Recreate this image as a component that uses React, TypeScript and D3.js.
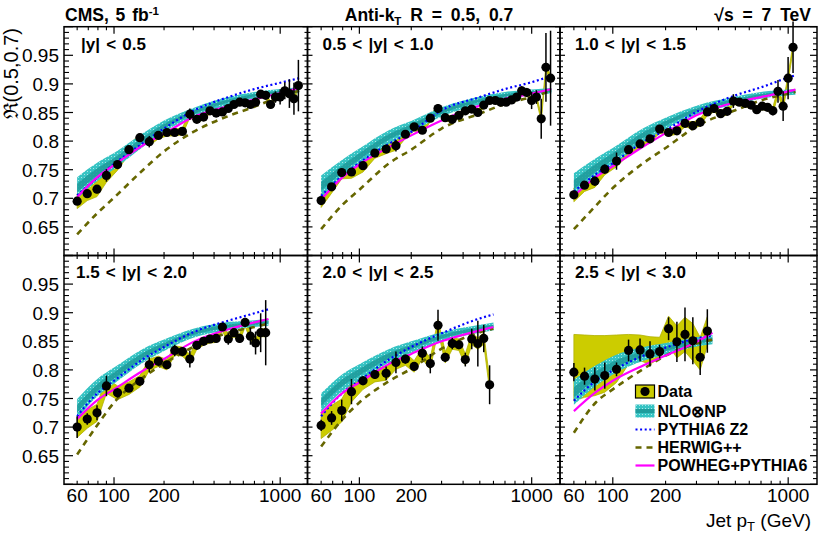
import React from "react";
import * as d3 from "d3";

// jet pT bin centres (GeV)
const PT_BINS = [60, 69, 79, 90, 105, 123, 143, 163, 185, 208, 232, 258, 286, 315, 346, 378, 412, 449, 487, 527, 570, 615, 662, 711, 763, 818, 875, 936, 999, 1066, 1136, 1210, 1287];

const LABELS = ["|y| < 0.5", "0.5 < |y| < 1.0", "1.0 < |y| < 1.5", "1.5 < |y| < 2.0", "2.0 < |y| < 2.5", "2.5 < |y| < 3.0"];

// measured ratio R(0.5,0.7), one list per rapidity bin
const DATA = [
  [0.695, 0.708, 0.716, 0.740, 0.759, 0.785, 0.806, 0.799, 0.810, 0.815, 0.815, 0.817, 0.847, 0.838, 0.842, 0.853, 0.849, 0.851, 0.857, 0.864, 0.868, 0.867, 0.864, 0.868, 0.882, 0.880, 0.864, 0.877, 0.877, 0.888, 0.883, 0.874, 0.897],
  [0.696, 0.720, 0.745, 0.746, 0.757, 0.779, 0.786, 0.792, 0.812, 0.825, 0.819, 0.840, 0.857, 0.841, 0.838, 0.845, 0.853, 0.856, 0.850, 0.863, 0.871, 0.871, 0.868, 0.868, 0.872, 0.877, 0.888, 0.885, 0.871, 0.877, 0.839, 0.929, 0.910],
  [0.706, 0.723, 0.730, 0.751, 0.765, 0.785, 0.795, 0.804, 0.821, 0.815, 0.818, 0.831, 0.827, 0.833, 0.851, 0.857, 0.848, 0.852, 0.870, 0.868, 0.866, 0.863, 0.855, 0.861, 0.859, 0.853, 0.887, 0.861, 0.910, 0.964],
  [0.700, 0.714, 0.725, 0.772, 0.760, 0.768, 0.780, 0.809, 0.815, 0.809, 0.834, 0.832, 0.819, 0.843, 0.850, 0.854, 0.855, 0.875, 0.854, 0.865, 0.855, 0.883, 0.859, 0.847, 0.865, 0.865],
  [0.703, 0.716, 0.729, 0.762, 0.781, 0.792, 0.794, 0.813, 0.819, 0.806, 0.829, 0.811, 0.878, 0.822, 0.846, 0.844, 0.818, 0.854, 0.846, 0.855, 0.774],
  [0.796, 0.789, 0.784, 0.790, 0.801, 0.834, 0.835, 0.828, 0.832, 0.872, 0.849, 0.862, 0.851, 0.822, 0.868],
];

const STAT = [
  [0.005, 0.005, 0.007, 0.011, 0.006, 0.005, 0.006, 0.010, 0.005, 0.005, 0.005, 0.005, 0.010, 0.005, 0.004, 0.004, 0.004, 0.004, 0.004, 0.004, 0.004, 0.004, 0.004, 0.004, 0.005, 0.005, 0.007, 0.010, 0.013, 0.015, 0.025, 0.028, 0.045],
  [0.005, 0.005, 0.007, 0.006, 0.005, 0.006, 0.005, 0.010, 0.006, 0.005, 0.006, 0.006, 0.008, 0.005, 0.004, 0.004, 0.004, 0.004, 0.004, 0.004, 0.004, 0.004, 0.004, 0.004, 0.004, 0.005, 0.008, 0.008, 0.015, 0.012, 0.035, 0.060, 0.083],
  [0.006, 0.005, 0.008, 0.008, 0.015, 0.005, 0.005, 0.006, 0.006, 0.006, 0.005, 0.007, 0.008, 0.008, 0.006, 0.008, 0.006, 0.005, 0.012, 0.006, 0.006, 0.005, 0.005, 0.005, 0.006, 0.008, 0.020, 0.026, 0.037, 0.045],
  [0.019, 0.010, 0.013, 0.018, 0.008, 0.006, 0.007, 0.013, 0.007, 0.007, 0.010, 0.008, 0.015, 0.007, 0.005, 0.005, 0.005, 0.006, 0.010, 0.007, 0.008, 0.008, 0.015, 0.020, 0.034, 0.057],
  [0.010, 0.012, 0.019, 0.022, 0.008, 0.008, 0.012, 0.019, 0.008, 0.008, 0.012, 0.017, 0.027, 0.008, 0.010, 0.008, 0.012, 0.018, 0.040, 0.024, 0.034],
  [0.016, 0.015, 0.020, 0.023, 0.012, 0.019, 0.020, 0.022, 0.012, 0.020, 0.035, 0.047, 0.041, 0.031, 0.038],
];

// systematic band (upper / lower half widths)
const SYS_UP = [
  [0.013, 0.012, 0.013, 0.012, 0.010, 0.008, 0.007, 0.007, 0.006, 0.006, 0.006, 0.006, 0.006, 0.005, 0.005, 0.005, 0.005, 0.005, 0.005, 0.005, 0.005, 0.005, 0.005, 0.005, 0.005, 0.005, 0.005, 0.005, 0.005, 0.005, 0.005, 0.005, 0.005],
  [0.012, 0.011, 0.011, 0.011, 0.011, 0.009, 0.008, 0.008, 0.007, 0.007, 0.006, 0.006, 0.006, 0.006, 0.005, 0.005, 0.005, 0.005, 0.005, 0.005, 0.005, 0.005, 0.005, 0.005, 0.005, 0.005, 0.005, 0.005, 0.005, 0.005, 0.005, 0.005, 0.005],
  [0.012, 0.011, 0.011, 0.010, 0.010, 0.009, 0.008, 0.007, 0.007, 0.006, 0.006, 0.006, 0.006, 0.006, 0.006, 0.006, 0.006, 0.006, 0.006, 0.006, 0.006, 0.006, 0.006, 0.006, 0.006, 0.006, 0.006, 0.006, 0.006, 0.006],
  [0.018, 0.016, 0.015, 0.013, 0.012, 0.011, 0.010, 0.010, 0.009, 0.009, 0.008, 0.008, 0.008, 0.007, 0.007, 0.007, 0.007, 0.007, 0.007, 0.007, 0.007, 0.007, 0.007, 0.007, 0.007, 0.007],
  [0.023, 0.022, 0.020, 0.018, 0.015, 0.013, 0.012, 0.012, 0.011, 0.010, 0.010, 0.010, 0.010, 0.010, 0.010, 0.010, 0.010, 0.010, 0.010, 0.010, 0.010],
  [0.066, 0.072, 0.076, 0.070, 0.060, 0.028, 0.026, 0.030, 0.025, 0.022, 0.028, 0.030, 0.030, 0.035, 0.025],
];
const SYS_DN = [
  SYS_UP[0], SYS_UP[1], SYS_UP[2], SYS_UP[3], SYS_UP[4],
  [0.050, 0.037, 0.029, 0.029, 0.023, 0.024, 0.019, 0.018, 0.012, 0.029, 0.028, 0.030, 0.035, 0.022, 0.025],
];

// theory nodes
const THEORY_PT = [
  [60, 80, 100, 150, 200, 300, 500, 700, 1000, 1300],
  [60, 80, 100, 150, 200, 300, 500, 700, 1000, 1300],
  [60, 80, 100, 150, 200, 300, 500, 700, 1000, 1100],
  [60, 80, 100, 150, 200, 300, 500, 700, 850],
  [60, 80, 100, 150, 200, 300, 500, 600],
  [60, 80, 100, 150, 200, 300, 370],
];
const NLO = [
  [0.718, 0.747, 0.765, 0.802, 0.826, 0.850, 0.871, 0.880, 0.886, 0.889],
  [0.721, 0.752, 0.773, 0.808, 0.825, 0.851, 0.871, 0.880, 0.885, 0.888],
  [0.724, 0.753, 0.773, 0.811, 0.831, 0.854, 0.871, 0.880, 0.885, 0.886],
  [0.732, 0.770, 0.790, 0.825, 0.843, 0.864, 0.877, 0.881, 0.883],
  [0.743, 0.778, 0.796, 0.825, 0.840, 0.858, 0.872, 0.876],
  [0.761, 0.790, 0.808, 0.828, 0.837, 0.849, 0.853],
];
const NLO_ERR = [
  [0.019, 0.016, 0.014, 0.012, 0.010, 0.008, 0.007, 0.006, 0.005, 0.005],
  [0.019, 0.016, 0.014, 0.012, 0.010, 0.008, 0.007, 0.006, 0.005, 0.005],
  [0.020, 0.017, 0.015, 0.012, 0.010, 0.008, 0.007, 0.006, 0.005, 0.005],
  [0.017, 0.015, 0.014, 0.012, 0.010, 0.008, 0.007, 0.006, 0.006],
  [0.016, 0.015, 0.014, 0.012, 0.010, 0.008, 0.007, 0.007],
  [0.022, 0.018, 0.016, 0.012, 0.010, 0.008, 0.008],
];
const PYTHIA = [
  [0.705, 0.737, 0.760, 0.797, 0.822, 0.853, 0.878, 0.891, 0.902, 0.910],
  [0.704, 0.740, 0.762, 0.796, 0.816, 0.854, 0.877, 0.891, 0.903, 0.914],
  [0.712, 0.742, 0.761, 0.799, 0.819, 0.851, 0.880, 0.894, 0.911, 0.915],
  [0.719, 0.760, 0.781, 0.819, 0.840, 0.866, 0.887, 0.899, 0.906],
  [0.719, 0.760, 0.781, 0.819, 0.840, 0.864, 0.890, 0.897],
  [0.746, 0.781, 0.799, 0.825, 0.839, 0.855, 0.860],
];
const HERWIG = [
  [0.637, 0.675, 0.701, 0.750, 0.782, 0.816, 0.845, 0.860, 0.878, 0.888],
  [0.646, 0.689, 0.715, 0.762, 0.785, 0.822, 0.848, 0.865, 0.877, 0.888],
  [0.646, 0.687, 0.718, 0.762, 0.788, 0.826, 0.854, 0.871, 0.883, 0.886],
  [0.652, 0.705, 0.743, 0.787, 0.811, 0.840, 0.866, 0.875, 0.881],
  [0.666, 0.714, 0.743, 0.781, 0.802, 0.837, 0.866, 0.872],
  [0.690, 0.743, 0.766, 0.802, 0.825, 0.846, 0.853],
];
const POWHEG = [
  [0.702, 0.738, 0.758, 0.793, 0.813, 0.842, 0.862, 0.873, 0.884, 0.893],
  [0.698, 0.737, 0.759, 0.790, 0.810, 0.836, 0.862, 0.874, 0.883, 0.891],
  [0.704, 0.737, 0.756, 0.791, 0.814, 0.845, 0.868, 0.877, 0.887, 0.890],
  [0.714, 0.748, 0.766, 0.799, 0.819, 0.849, 0.872, 0.883, 0.889],
  [0.724, 0.760, 0.778, 0.811, 0.828, 0.850, 0.869, 0.875],
  [0.728, 0.761, 0.781, 0.808, 0.825, 0.849, 0.865],
];

const LEGEND = ["Data", "NLO\u2297NP", "PYTHIA6 Z2", "HERWIG++", "POWHEG+PYTHIA6"];

const X_LABELS = [60, 100, 200, 1000];
const X_MAJOR = [100, 1000];
const X_MINOR = [60, 70, 80, 90, 200, 300, 400, 500, 600, 700, 800, 900];
const Y_LABELS = [0.65, 0.7, 0.75, 0.8, 0.85, 0.9, 0.95];

const W = 830, H = 536;
const FONT = "'Liberation Sans', Arial, Helvetica, sans-serif";
const COLS = [[64, 307.5], [307.5, 560], [560, 817]];
const ROWS = [[26.7, 255.5], [255.5, 484.3]];
const X_DOMAIN = [50, 1460];
const Y_DOMAIN = [0.6, 1.0];

const C_SYS = "#cccc00", C_NLO_IN = "#1f9c9c", C_PY = "#0000ff", C_HW = "#666600", C_PW = "#ff00ff";

function Panel({ i }: { i: number }) {
  const col = i % 3, row = Math.floor(i / 3);
  const [x0, x1] = COLS[col], [y0, y1] = ROWS[row];
  const x = d3.scaleLog().domain(X_DOMAIN).range([x0, x1]);
  const y = d3.scaleLinear().domain(Y_DOMAIN).range([y1, y0]);

  const vals = DATA[i];
  const pts = PT_BINS.slice(0, vals.length);
  const up = SYS_UP[i], dn = SYS_DN[i];
  const sysPath = d3.area<number>()
    .x((_, k) => x(pts[k])).y0((v, k) => y(v - dn[k])).y1((v, k) => y(v + up[k]))(vals);

  const tpt = THEORY_PT[i];
  const line = d3.line<number>().x((_, k) => x(tpt[k])).y(v => y(v)).curve(d3.curveMonotoneX);
  const band = (f: number) => d3.area<number>()
    .x((_, k) => x(tpt[k]))
    .y0((v, k) => y(v - f * NLO_ERR[i][k]))
    .y1((v, k) => y(v + f * NLO_ERR[i][k]))
    .curve(d3.curveMonotoneX)(NLO[i]);

  const yMajor = d3.range(60, 101, 5).map(v => v / 100);
  const yMinor = d3.range(60, 101).map(v => v / 100).filter(v => Math.round(v * 100) % 5 !== 0);
  const lMaj = col === 0 ? 9 : 5, lMin = col === 0 ? 5 : 3;
  const rMaj = col === 2 ? 7 : 5, rMin = col === 2 ? 4 : 3;

  const labelX = [81, 322.5, 575][col] - (row === 1 && col === 0 ? 5 : 0);
  const labelY = row === 0 ? 49.5 : 278;

  return (
    <g>
      <path d={sysPath ?? ""} fill={C_SYS} stroke="#b0b000" strokeWidth={0.8} />
      <path d={band(1) ?? ""} fill="url(#nloPat)" />
      <path d={band(0.4) ?? ""} fill={C_NLO_IN} opacity={0.9} />
      <path d={line(HERWIG[i]) ?? ""} fill="none" stroke={C_HW} strokeWidth={2.6} strokeDasharray="6,5" />
      <path d={line(PYTHIA[i]) ?? ""} fill="none" stroke={C_PY} strokeWidth={2.2} strokeDasharray="2,2.6" />
      <path d={line(POWHEG[i]) ?? ""} fill="none" stroke={C_PW} strokeWidth={2.2} />
      {vals.map((v, k) => (
        <line key={"e" + k} x1={x(pts[k])} x2={x(pts[k])} y1={y(v - STAT[i][k])} y2={y(v + STAT[i][k])} stroke="#000" strokeWidth={1.5} />
      ))}
      {vals.map((v, k) => (
        <circle key={"p" + k} cx={x(pts[k])} cy={y(v)} r={4.6} fill="#000" />
      ))}

      <rect x={x0} y={y0} width={x1 - x0} height={y1 - y0} fill="none" stroke="#000" strokeWidth={1.5} />
      {yMajor.map(t => (
        <g key={"ym" + t}>
          <line x1={x0} x2={x0 + lMaj} y1={y(t)} y2={y(t)} stroke="#000" strokeWidth={1.2} />
          <line x1={x1} x2={x1 - rMaj} y1={y(t)} y2={y(t)} stroke="#000" strokeWidth={1.2} />
        </g>
      ))}
      {yMinor.map(t => (
        <g key={"yn" + t}>
          <line x1={x0} x2={x0 + lMin} y1={y(t)} y2={y(t)} stroke="#000" strokeWidth={1.1} />
          <line x1={x1} x2={x1 - rMin} y1={y(t)} y2={y(t)} stroke="#000" strokeWidth={1.1} />
        </g>
      ))}
      {X_MAJOR.map(t => (
        <g key={"xm" + t}>
          <line x1={x(t)} x2={x(t)} y1={y1} y2={y1 - 7} stroke="#000" strokeWidth={1.2} />
          <line x1={x(t)} x2={x(t)} y1={y0} y2={y0 + 7} stroke="#000" strokeWidth={1.2} />
        </g>
      ))}
      {X_MINOR.map(t => (
        <g key={"xn" + t}>
          <line x1={x(t)} x2={x(t)} y1={y1} y2={y1 - 3.5} stroke="#000" strokeWidth={1.1} />
          <line x1={x(t)} x2={x(t)} y1={y0} y2={y0 + 3.5} stroke="#000" strokeWidth={1.1} />
        </g>
      ))}

      {col === 0 && Y_LABELS.map(t => (
        <text key={"yl" + t} x={59} y={y(t) + 7} textAnchor="end" fontSize={19}>{String(t)}</text>
      ))}
      {row === 1 && X_LABELS.map(t => (
        <text key={"xl" + t} x={x(t)} y={502} textAnchor="middle" fontSize={19}>{t}</text>
      ))}

      <text x={labelX} y={labelY} fontSize={17} fontWeight="bold" wordSpacing={1.5}>{LABELS[i]}</text>
    </g>
  );
}

function Legend() {
  const lx0 = 635.5, lx1 = 654.5, tx = 657.5;
  const rowY = [391.5, 411, 429.5, 447.5, 465.5];
  return (
    <g>
      <rect x={lx0} y={rowY[0] - 6.5} width={lx1 - lx0} height={13} fill={C_SYS} stroke="#000" strokeWidth={1.2} />
      <circle cx={(lx0 + lx1) / 2} cy={rowY[0]} r={4.6} fill="#000" />
      <rect x={lx0} y={rowY[1] - 6.5} width={lx1 - lx0} height={13} fill="url(#nloPat)" />
      <rect x={lx0} y={rowY[1] - 2} width={lx1 - lx0} height={4} fill={C_NLO_IN} />
      <line x1={lx0} x2={lx1} y1={rowY[2]} y2={rowY[2]} stroke={C_PY} strokeWidth={2.2} strokeDasharray="2,2.6" />
      <line x1={lx0} x2={lx1} y1={rowY[3]} y2={rowY[3]} stroke={C_HW} strokeWidth={2.6} strokeDasharray="6,5" />
      <line x1={lx0} x2={lx1} y1={rowY[4]} y2={rowY[4]} stroke={C_PW} strokeWidth={2.2} />
      {LEGEND.map((s, k) => (
        <text key={s} x={tx} y={rowY[k] + 5.5} fontSize={16} fontWeight="bold">{s}</text>
      ))}
    </g>
  );
}

export default function App() {
  return (
    <svg width={W} height={H} style={{ position: "absolute", left: 0, top: 0, background: "#fff" }} fontFamily={FONT}>
      <defs>
        <pattern id="nloPat" width={3} height={3} patternUnits="userSpaceOnUse">
          <rect width={3} height={3} fill="#36c3c3" />
          <rect width={1} height={1} fill="#a8e6e6" />
        </pattern>
      </defs>
      <rect width={W} height={H} fill="#fff" />
      {LABELS.map((_, i) => <Panel key={i} i={i} />)}
      <Legend />

      <text x={65} y={21} fontSize={17.5} fontWeight="bold" wordSpacing={2}>CMS, 5 fb<tspan dy={-6} fontSize={11.5}>-1</tspan></text>
      <text x={429} y={21} fontSize={17.5} fontWeight="bold" textAnchor="middle" wordSpacing={4}>
        Anti-k<tspan dy={4} fontSize={11.5}>T</tspan><tspan dy={-4}> R = 0.5, 0.7</tspan>
      </text>
      <text x={811} y={21} fontSize={17.5} fontWeight="bold" textAnchor="end" wordSpacing={4}>{"\u221As = 7 TeV"}</text>

      <text transform="translate(18,28) rotate(-90)" textAnchor="end" fontSize={20}>{"\u211C(0.5,0.7)"}</text>
      <text x={811} y={527} textAnchor="end" fontSize={19}>
        Jet p<tspan dy={4} fontSize={13}>T</tspan><tspan dy={-4}> (GeV)</tspan>
      </text>
    </svg>
  );
}
